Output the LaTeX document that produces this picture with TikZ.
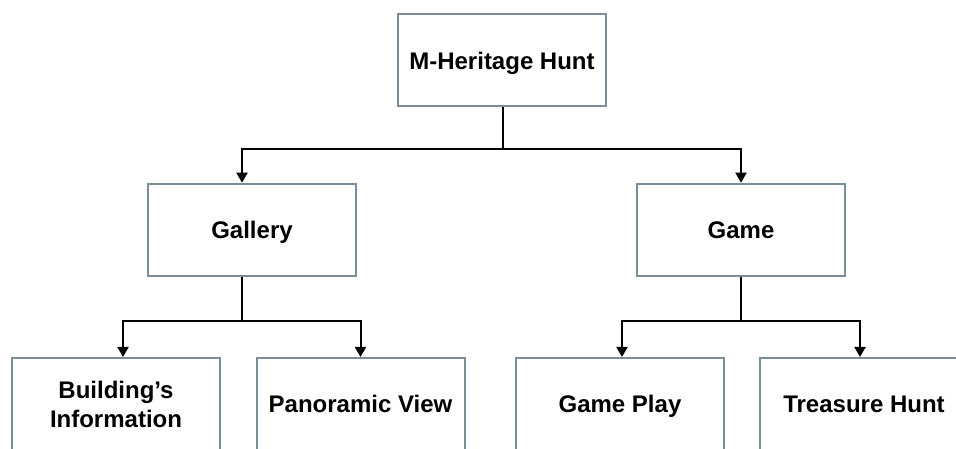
\documentclass[tikz,border=0pt]{standalone}
\usepackage{fontspec}
\setmainfont{Liberation Sans}
\usetikzlibrary{arrows.meta}
\definecolor{boxline}{RGB}{122,142,151}

\begin{document}
\begin{tikzpicture}[x=1pt,y=1pt,
    box/.style={draw=boxline, line width=2pt, fill=white, minimum width=208pt,
      minimum height=92pt, inner sep=0pt, align=center,
      font=\fontsize{24}{29}\selectfont\bfseries},
    oneline/.style={box, text height=17.5pt, text depth=0pt},
    link/.style={black, line width=2pt, -{Triangle[length=10pt,width=11pt]}}]
  % Page size (the bottom row runs off the lower edge)
  \useasboundingbox (0,0) rectangle (956,449);
  \clip (0,0) rectangle (956,449);

  % Top level
  \node[oneline] (hunt) at (502,388.5) {M-Heritage Hunt};

  % Second level
  \node[oneline] (gallery) at (252,219.3) {Gallery};
  \node[oneline] (game) at (741,219.3) {Game};

  % Third level
  \node[box] (building) at (116,45) {Building’s\\Information};
  \node[oneline] (panorama) at (360.5,45) {Panoramic View};
  \node[oneline] (gameplay) at (620,45) {Game Play};
  \node[oneline] (treasure) at (864,45) {Treasure Hunt};

  % Connectors from the top box
  \draw[link] ([xshift=1pt]hunt.south) -- ++(0,-42) -| ([xshift=-10pt]gallery.north);
  \draw[link] ([xshift=1pt]hunt.south) -- ++(0,-42) -| (game.north);

  % Connectors from Gallery
  \draw[link] ([xshift=-10pt]gallery.south) -- ++(0,-44) -| ([xshift=7pt]building.north);
  \draw[link] ([xshift=-10pt]gallery.south) -- ++(0,-44) -| (panorama.north);

  % Connectors from Game
  \draw[link] (game.south) -- ++(0,-44) -| ([xshift=2pt]gameplay.north);
  \draw[link] (game.south) -- ++(0,-44) -| ([xshift=-4pt]treasure.north);
\end{tikzpicture}
\end{document}
